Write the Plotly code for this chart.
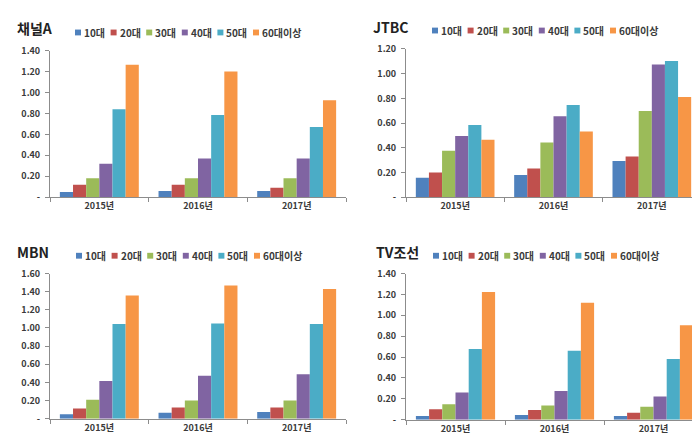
import plotly.graph_objects as go

W, H = 700, 444

years = ["2015년", "2016년", "2017년"]
ages = ["10대", "20대", "30대", "40대", "50대", "60대이상"]
colors = ["#4F81BD", "#C0504D", "#9BBB59", "#8064A2", "#4BACC6", "#F79646"]

channels = ["채널A", "JTBC", "MBN", "TV조선"]

# values[channel][age] -> per year (2015, 2016, 2017)
chA = {
    "10대": [0.05, 0.06, 0.06],
    "20대": [0.12, 0.12, 0.09],
    "30대": [0.18, 0.18, 0.18],
    "40대": [0.32, 0.37, 0.37],
    "50대": [0.84, 0.785, 0.67],
    "60대이상": [1.265, 1.20, 0.925],
}
jtbc = {
    "10대": [0.157, 0.18, 0.293],
    "20대": [0.20, 0.233, 0.33],
    "30대": [0.377, 0.443, 0.697],
    "40대": [0.495, 0.655, 1.074],
    "50대": [0.584, 0.747, 1.103],
    "60대이상": [0.466, 0.532, 0.812],
}
mbn = {
    "10대": [0.05, 0.068, 0.075],
    "20대": [0.114, 0.125, 0.125],
    "30대": [0.21, 0.203, 0.203],
    "40대": [0.417, 0.474, 0.49],
    "50대": [1.044, 1.05, 1.044],
    "60대이상": [1.358, 1.468, 1.43],
}
tvc = {
    "10대": [0.037, 0.046, 0.037],
    "20대": [0.10, 0.093, 0.068],
    "30대": [0.149, 0.136, 0.124],
    "40대": [0.26, 0.276, 0.223],
    "50대": [0.678, 0.66, 0.582],
    "60대이상": [1.223, 1.121, 0.904],
}
data = [chA, jtbc, mbn, tvc]
ymax = [1.4, 1.2, 1.6, 1.4]

# layout in pixels: (x0, x1, ytop, ybottom), title pos, legend pos
boxes = [(42, 338, 36.7, 187.7), (398, 693, 35, 187.7),
         (42, 338, 266.3, 416), (398, 695, 266.3, 417)]
title_pos = [(7, 13), (363, 12), (7, 244), (366, 244)]
legend_pos = [(67, 18), (424, 16), (68, 248), (425, 248)]
legend_step = 35.6

FONT = "Noto Sans CJK KR"
TXT = "#3a3a3a"
fig = go.Figure()

def px(x):
    return x / W

def py(y):
    return 1 - y / H

shapes = []
annotations = []
for i, (ch, d) in enumerate(zip(channels, data)):
    n = "" if i == 0 else str(i + 1)
    xa, ya = "x" + n, "y" + n
    for a, c in zip(ages, colors):
        fig.add_trace(go.Bar(x=years, y=d[a], name=a, marker_color=c,
                             marker_line_width=0, xaxis=xa, yaxis=ya,
                             showlegend=False))
    x0, x1, yt, yb = boxes[i]
    tv = [round(k * 0.2, 2) for k in range(int(round(ymax[i] / 0.2)) + 1)]
    tt = ["-" if v == 0 else f"{v:.2f}" for v in tv]
    fig.update_layout(**{
        "xaxis" + n: dict(domain=[px(x0), px(x1)], anchor=ya, type="category",
                          showline=True, linecolor="#8c8c8c", linewidth=1,
                          ticks="outside", tickson="boundaries", ticklen=4,
                          tickcolor="#8c8c8c", showgrid=False,
                          tickfont=dict(family=FONT, size=9, color=TXT, weight="bold")),
        "yaxis" + n: dict(domain=[py(yb), py(yt)], anchor=xa, range=[0, ymax[i]],
                          tickvals=tv, ticktext=tt, showline=True,
                          linecolor="#8c8c8c", linewidth=1, ticks="outside",
                          ticklen=4, tickcolor="#8c8c8c", showgrid=False,
                          zeroline=False, ticklabelstandoff=3,
                          tickfont=dict(family=FONT, size=9, color=TXT, weight="bold")),
    })
    tx, ty = title_pos[i]
    annotations.append(dict(text=f"<b>{ch}</b>", x=px(tx), y=py(ty), xref="paper",
                            yref="paper", xanchor="left", yanchor="middle",
                            showarrow=False,
                            font=dict(family=FONT, size=14, color="#222222")))
    lx, ly = legend_pos[i]
    for k, (a, c) in enumerate(zip(ages, colors)):
        sx = lx + k * legend_step
        shapes.append(dict(type="rect", xref="paper", yref="paper",
                           x0=px(sx), x1=px(sx + 6), y0=py(ly + 3), y1=py(ly - 3),
                           fillcolor=c, line_width=0))
        annotations.append(dict(text=a, x=px(sx + 7), y=py(ly), xref="paper",
                                yref="paper", xanchor="left", yanchor="middle",
                                showarrow=False,
                                font=dict(family=FONT, size=10, color=TXT, weight="bold")))

fig.update_layout(width=W, height=H, margin=dict(l=0, r=0, t=0, b=0),
                  paper_bgcolor="white", plot_bgcolor="white",
                  barmode="group", bargap=0.2, bargroupgap=0,
                  shapes=shapes, annotations=annotations, showlegend=False)
fig.write_html("out.html")
